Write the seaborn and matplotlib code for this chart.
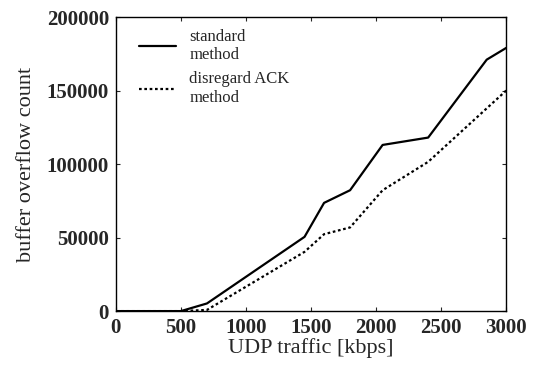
import matplotlib
matplotlib.use("Agg")
import matplotlib.pyplot as plt
import seaborn as sns
import pandas as pd

std_x = [0, 500, 700, 1450, 1600, 1800, 2050, 2400, 2850, 3000]
std_y = [0, 0, 5200, 50500, 73600, 82200, 113000, 118000, 171000, 179000]
ack_x = [0, 500, 700, 1450, 1600, 1800, 2050, 2400, 3000]
ack_y = [0, 0, 800, 40300, 52300, 56900, 82200, 101500, 150000]

sns.set_theme(style="ticks")
plt.rcParams['font.family'] = ['Liberation Serif', 'DejaVu Serif']

df = pd.concat([
    pd.DataFrame({"x": std_x, "y": std_y, "m": "standard\nmethod"}),
    pd.DataFrame({"x": ack_x, "y": ack_y, "m": "disregard ACK\nmethod"}),
])

fig = plt.figure(figsize=(5.34, 3.78), dpi=100)
ax = fig.add_axes([0.217, 0.177, 0.731, 0.778])
sns.lineplot(data=df, x="x", y="y", hue="m", style="m",
             palette=["black", "black"], dashes=[(None, None), (1.2, 1.2)],
             linewidth=1.6, ax=ax, estimator=None, sort=False)
ax.set_xlim(0, 3000)
ax.set_ylim(0, 200000)
ax.set_xticks([0, 500, 1000, 1500, 2000, 2500, 3000])
ax.set_yticks([0, 50000, 100000, 150000, 200000])
ax.tick_params(direction="in", top=True, right=True, length=3, width=0.8,
               labelsize=15, pad=5)
for lab in ax.get_xticklabels() + ax.get_yticklabels():
    lab.set_fontweight("bold")
for s in ax.spines.values():
    s.set_linewidth(1.0)
    s.set_color("black")
ax.set_xlabel("UDP traffic [kbps]", fontsize=16, labelpad=0)
ax.set_ylabel("buffer overflow count", fontsize=16, labelpad=8)
leg = ax.legend(loc="upper left", frameon=False, fontsize=12,
                handlelength=2.2, labelspacing=0.5, borderaxespad=0.3,
                bbox_to_anchor=(0.03, 1.0))
fig.savefig("out.png", dpi=100)
